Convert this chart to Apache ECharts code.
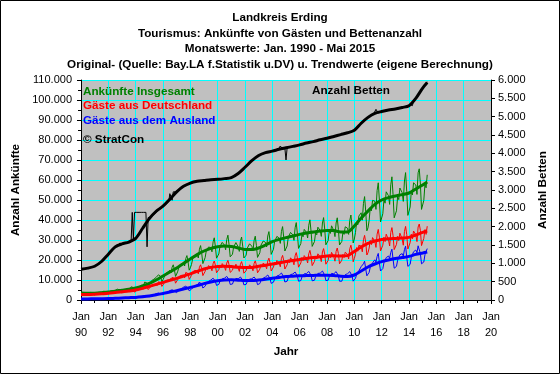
<!DOCTYPE html>
<html><head><meta charset="utf-8">
<script src="https://cdn.jsdelivr.net/npm/echarts@6/dist/echarts.min.js"></script>
<style>html,body{margin:0;padding:0;background:#fff}#c{width:560px;height:374px}</style>
</head><body><div id="c"></div>
<script>
// ---- DATA (arrivals in thousands, beds in thousands) ----
// Monthly originals, Jan 1990 .. May 2015
const inlandMonthly = [
2.3,2.5,2.9,2.7,3.0,2.9,2.8,2.5,3.1,3.4,3.0,2.3,
2.5,2.7,3.1,2.9,3.2,3.2,3.2,2.9,3.6,3.8,3.4,2.7,
2.9,3.2,3.7,3.4,3.8,3.7,3.8,3.4,4.3,4.6,4.1,3.2,
3.5,3.9,4.4,4.1,4.6,4.5,4.7,4.2,5.2,5.6,5.0,3.9,
4.4,4.9,5.6,5.2,5.8,5.7,6.2,5.5,6.9,7.4,6.6,5.2,
6.0,6.6,7.5,7.0,7.9,7.7,8.1,7.3,9.1,9.8,8.7,6.8,
7.6,8.4,9.6,8.9,10.0,9.8,10.1,9.1,11.3,12.2,10.8,8.4,
9.3,10.3,11.7,10.9,12.3,12.0,12.3,11.0,13.8,14.8,13.2,10.3,
11.2,12.3,14.1,13.2,14.8,14.4,14.6,13.1,16.4,17.6,15.6,12.2,
13.0,14.3,16.4,15.3,17.2,16.7,16.2,14.6,18.2,19.5,17.4,13.6,
13.8,15.2,17.4,16.2,18.2,17.7,16.5,14.8,18.5,19.8,17.6,13.8,
13.6,14.9,17.0,15.9,17.9,17.4,16.0,14.3,17.9,19.2,17.1,13.4,
13.3,14.6,16.7,15.6,17.6,17.1,16.3,14.6,18.3,19.6,17.4,13.6,
14.1,15.4,17.7,16.5,18.5,18.0,17.3,15.6,19.5,20.9,18.6,14.5,
15.0,16.5,18.8,17.6,19.8,19.2,18.5,16.6,20.8,22.3,19.8,15.5,
16.0,17.6,20.1,18.7,21.1,20.5,19.6,17.6,22.1,23.7,21.1,16.4,
16.9,18.5,21.2,19.7,22.2,21.6,20.6,18.5,23.1,24.8,22.1,17.2,
17.5,19.3,22.0,20.5,23.1,22.5,21.4,19.2,24.0,25.7,22.9,17.9,
18.1,19.8,22.7,21.2,23.8,23.2,21.6,19.4,24.3,26.0,23.2,18.1,
18.1,19.9,22.8,21.2,23.9,23.2,22.8,20.5,25.6,27.4,24.4,19.1,
20.8,22.9,26.2,24.4,27.4,26.7,26.9,24.1,30.1,32.3,28.8,22.5,
23.7,26.0,29.8,27.7,31.2,30.3,29.3,26.3,32.9,35.3,31.4,24.5,
25.0,27.4,31.4,29.2,32.9,32.0,30.1,27.0,33.8,36.2,32.2,25.2,
25.3,27.8,31.8,29.7,33.4,32.4,30.5,27.4,34.3,36.8,32.7,25.5,
26.2,28.7,32.9,30.6,34.5,33.5,32.5,29.2,36.5,38.0,34.8,27.2,
28.0,30.8,35.2,32.8,36.9
];
const foreignMonthly = [
0.4,0.4,0.5,0.5,0.6,0.6,0.6,0.6,0.7,0.7,0.6,0.4,
0.4,0.5,0.6,0.6,0.7,0.7,0.7,0.7,0.8,0.8,0.7,0.5,
0.6,0.6,0.7,0.8,0.8,0.8,1.0,0.9,1.1,1.2,0.9,0.7,
0.8,0.9,1.0,1.0,1.2,1.2,1.3,1.2,1.4,1.5,1.2,1.0,
1.0,1.2,1.4,1.4,1.6,1.6,1.9,1.8,2.1,2.3,1.8,1.4,
1.7,1.8,2.2,2.3,2.5,2.5,3.2,3.0,3.5,3.7,3.0,2.3,
2.6,2.9,3.5,3.6,3.9,3.9,4.7,4.4,5.1,5.4,4.4,3.4,
3.7,4.1,4.8,5.0,5.5,5.5,6.4,6.0,6.9,7.4,5.9,4.6,
4.9,5.4,6.4,6.6,7.3,7.3,8.3,7.9,9.0,9.6,7.7,6.0,
6.2,6.9,8.2,8.4,9.3,9.3,10.0,9.5,10.9,11.6,9.3,7.3,
7.1,7.8,9.3,9.6,10.6,10.6,10.9,10.3,11.8,12.6,10.1,7.8,
7.2,8.0,9.5,9.8,10.8,10.8,10.6,10.0,11.5,12.3,9.8,7.6,
7.0,7.8,9.2,9.5,10.5,10.5,10.6,10.0,11.5,12.3,9.9,7.7,
7.3,8.2,9.7,10.0,11.0,11.0,11.5,10.9,12.5,13.3,10.7,8.3,
8.0,8.9,10.5,10.9,12.0,12.0,12.4,11.7,13.5,14.4,11.5,9.0,
8.5,9.4,11.2,11.6,12.7,12.7,13.0,12.2,14.0,15.0,12.0,9.4,
8.7,9.7,11.5,11.9,13.1,13.1,13.2,12.5,14.3,15.3,12.3,9.6,
8.9,9.9,11.7,12.1,13.3,13.3,13.4,12.6,14.5,15.5,12.4,9.7,
8.9,9.9,11.7,12.1,13.3,13.3,13.1,12.3,14.2,15.1,12.1,9.4,
8.5,9.4,11.2,11.6,12.7,12.7,13.1,12.3,14.2,15.1,12.1,9.4,
9.7,10.8,12.8,13.2,14.6,14.6,16.7,15.8,18.1,19.4,15.5,12.1,
12.4,13.8,16.4,16.9,18.6,18.6,20.1,19.0,21.8,23.3,18.6,14.5,
14.1,15.7,18.6,19.2,21.2,21.2,22.0,20.8,23.8,25.4,20.4,15.9,
15.1,16.8,19.9,20.5,22.6,22.6,23.2,21.9,25.2,26.9,21.5,16.8,
16.1,17.8,21.2,21.9,24.1,24.1,25.0,23.6,27.1,27.6,23.2,18.1,
17.1,19.0,22.6,23.3,25.7
];
const totalMonthly = [
2.7,2.9,3.4,3.2,3.6,3.5,3.4,3.1,3.8,4.1,3.6,2.7,
2.9,3.2,3.7,3.5,3.9,3.9,3.9,3.6,4.4,4.6,4.1,3.2,
3.5,3.8,4.4,4.2,4.6,4.5,4.8,4.3,5.4,5.8,5.0,3.9,
4.3,4.8,5.4,5.1,5.8,5.7,6.0,5.4,6.6,7.1,6.2,4.9,
5.4,6.1,7.0,6.6,7.4,7.3,8.1,7.3,9.0,9.7,8.4,6.6,
7.7,8.4,9.7,9.3,10.4,10.2,11.3,10.3,12.6,13.5,11.7,9.1,
10.2,11.3,13.1,12.5,13.9,13.7,14.8,13.5,16.4,17.6,15.2,11.8,
13.0,14.4,16.5,15.9,17.8,17.5,18.7,17.0,20.7,22.2,19.1,14.9,
16.1,17.7,20.5,19.8,22.1,21.7,22.9,21.0,25.4,27.2,23.3,18.2,
19.2,21.2,24.6,23.7,26.5,26.0,26.2,24.1,29.1,31.1,26.7,20.9,
20.9,23.0,26.7,25.8,28.8,28.3,27.4,25.1,30.3,32.4,27.7,21.6,
20.8,22.9,26.5,25.7,28.7,28.2,26.6,24.3,29.4,31.5,26.9,21.0,
20.3,22.4,25.9,25.1,28.1,27.6,26.9,24.6,29.8,31.9,27.3,21.3,
21.4,23.6,27.4,26.5,29.5,29.0,28.8,26.5,32.0,34.2,29.3,22.8,
23.0,25.4,29.3,28.5,31.8,31.2,30.9,28.3,34.3,36.7,31.3,24.5,
24.5,27.0,31.3,30.3,33.8,33.2,32.6,29.8,36.1,38.7,33.1,25.8,
25.6,28.2,32.7,31.6,35.3,34.7,33.8,31.0,37.4,40.1,34.4,26.8,
26.4,29.2,33.7,32.6,36.4,35.8,34.8,31.8,38.5,41.2,35.3,27.6,
27.0,29.7,34.4,33.3,37.1,36.5,34.7,31.7,38.5,41.1,35.3,27.5,
26.6,29.3,34.0,32.8,36.6,35.9,35.9,32.8,39.8,42.5,36.5,28.5,
30.5,33.7,39.0,37.6,42.0,41.3,43.6,39.9,48.2,51.7,44.3,34.6,
36.1,39.8,46.2,44.6,49.8,48.9,49.4,45.3,54.7,58.6,50.0,39.0,
39.1,43.1,50.0,48.4,54.1,53.2,52.1,47.8,57.6,61.6,52.6,41.1,
40.4,44.6,51.7,50.2,56.0,55.0,53.7,49.3,59.5,63.7,54.2,42.3,
42.3,46.5,54.1,52.5,58.6,57.6,57.5,52.8,63.6,65.6,58.0,45.3,
45.1,49.8,57.8,56.1,62.6
];
const bedsMonthly = [
0.84,0.84,0.84,0.85,0.85,0.86,0.87,0.87,0.88,0.89,0.90,0.91,
0.92,0.92,0.95,0.97,1.00,1.03,1.05,1.08,1.11,1.15,1.19,1.22,
1.25,1.25,1.30,1.34,1.38,1.42,1.45,1.40,1.45,1.50,1.55,1.52,
1.53,1.53,1.54,1.55,1.55,1.56,1.57,1.58,1.60,2.39,1.65,2.39,
2.39,2.39,2.39,2.39,2.39,2.39,2.39,2.39,2.39,2.39,1.45,2.25,
2.25,2.26,2.28,2.30,2.33,2.36,2.40,2.42,2.44,2.47,2.50,2.52,
2.55,2.57,2.60,2.62,2.65,2.68,2.90,2.90,2.72,2.95,2.95,2.95,
2.97,2.99,3.02,3.04,3.06,3.08,3.10,3.12,3.14,3.16,3.17,3.18,
3.19,3.20,3.21,3.22,3.23,3.24,3.24,3.25,3.25,3.25,3.26,3.26,
3.26,3.26,3.27,3.27,3.27,3.28,3.28,3.28,3.28,3.29,3.29,3.29,
3.29,3.29,3.30,3.30,3.30,3.31,3.31,3.31,3.32,3.32,3.33,3.33,
3.34,3.35,3.37,3.39,3.41,3.43,3.45,3.48,3.51,3.54,3.57,3.60,
3.62,3.65,3.68,3.71,3.74,3.77,3.80,3.83,3.86,3.88,3.90,3.92,
3.94,3.95,3.96,3.98,3.99,4.00,4.02,4.03,4.03,4.04,4.05,4.05,
4.06,4.07,4.08,4.08,4.09,4.10,4.11,4.20,4.20,4.12,4.13,4.14,
3.82,4.15,4.16,4.17,4.17,4.18,4.19,4.20,4.20,4.21,4.22,4.22,
4.23,4.24,4.25,4.26,4.27,4.28,4.28,4.29,4.30,4.30,4.31,4.31,
4.32,4.33,4.34,4.35,4.36,4.37,4.37,4.38,4.39,4.39,4.40,4.40,
4.41,4.42,4.43,4.44,4.45,4.46,4.46,4.47,4.48,4.49,4.50,4.50,
4.51,4.52,4.53,4.54,4.55,4.56,4.56,4.57,4.58,4.59,4.60,4.61,
4.63,4.65,4.68,4.71,4.74,4.78,4.82,4.85,4.88,4.92,4.95,4.97,
4.98,5.00,5.02,5.04,5.06,5.08,5.09,5.20,5.20,5.10,5.11,5.12,
5.14,5.15,5.15,5.16,5.17,5.17,5.18,5.18,5.19,5.19,5.20,5.20,
5.21,5.21,5.22,5.22,5.23,5.24,5.25,5.25,5.26,5.27,5.28,5.29,
5.30,5.33,5.30,5.30,5.44,5.48,5.50,5.55,5.60,5.65,5.70,5.75,
5.78,5.82,5.86,5.90,5.95
];
// Trend values: every half year from Jan 1990 to Jan 2015, plus May 2015
const totalTrend = [3.5,3.4,3.4,3.6,4.0,4.4,4.9,5.4,6.0,7.0,8.3,10.0,12.0,14.0,16.0,18.3,20.5,22.7,24.5,25.8,
26.6,27.0,26.8,26.0,25.3,25.2,26.0,27.5,29.2,30.3,31.2,32.0,32.8,33.5,34.0,34.5,34.8,34.7,34.0,34.0,
37.0,41.0,44.5,47.8,50.0,51.2,52.0,52.7,53.5,55.5,57.5,59.0];
const inlandTrend = [2.8,2.8,2.9,3.1,3.4,3.7,4.1,4.5,5.0,5.8,6.8,7.8,8.8,9.8,10.8,12.0,13.1,14.3,15.5,16.3,
16.8,16.9,16.7,16.4,16.2,16.3,16.9,17.4,18.0,18.6,19.2,19.8,20.3,20.8,21.2,21.6,22.0,22.1,22.0,22.2,
24.3,26.5,28.3,29.5,30.3,30.6,30.8,31.0,31.3,32.5,33.8,34.5];
const foreignTrend = [0.5,0.55,0.6,0.65,0.7,0.85,1.0,1.15,1.3,1.6,2.0,2.6,3.3,4.0,4.7,5.5,6.3,7.2,8.2,9.0,
9.6,10.0,10.1,9.9,9.7,9.7,10.0,10.4,10.9,11.3,11.7,11.9,12.1,12.2,12.3,12.4,12.4,12.3,11.9,11.7,
12.5,14.5,16.5,18.0,19.2,20.0,20.7,21.2,21.8,22.8,23.5,24.0];
const bedsTrend = [0.84,0.87,0.92,1.05,1.25,1.45,1.53,1.58,1.68,1.95,2.22,2.42,2.56,2.75,2.95,3.10,3.19,3.24,3.26,3.28,
3.29,3.31,3.34,3.45,3.62,3.80,3.94,4.02,4.06,4.11,4.15,4.19,4.23,4.28,4.32,4.37,4.41,4.46,4.51,4.56,
4.63,4.82,4.98,5.09,5.14,5.18,5.21,5.25,5.30,5.50,5.78,5.93];
const leftTicks = {min: 0, max: 110, step: 10};
const rightTicks = {min: 0, max: 6, step: 0.5};
const titleLines = ['Landkreis Erding','Tourismus: Ankünfte von Gästen und Bettenanzahl','Monatswerte: Jan. 1990 - Mai 2015','Original- (Quelle: Bay.LA f.Statistik u.DV) u. Trendwerte (eigene Berechnung)'];

// ---- build ----
const FONT = '"Liberation Sans", Arial, sans-serif';
const BF = 'bold 11.7px ' + FONT;
const trendMonths = [];
for (let k = 0; k <= 50; k++) trendMonths.push(k * 6);
trendMonths.push(304);
const mon = a => a.map((v, i) => [i, v]);
const tr = a => a.map((v, i) => [trendMonths[i], v]);
const fmtThousand = v => {
  if (v === 0) return '0';
  if (v < 1) return String(Math.round(v * 1000));
  return v.toFixed(3);
};
const thin = (name, data, color, yi) => ({name, type:'line', data, yAxisIndex: yi, showSymbol:false, symbol:'none',
  lineStyle:{color, width:1}, itemStyle:{color}, silent:true, z:2});
const thick = (name, data, color, yi) => ({name, type:'line', data, yAxisIndex: yi, showSymbol:false, symbol:'none',
  smooth:0.3, lineStyle:{color, width:3}, itemStyle:{color}, silent:true, z:3});
const nameStyle = {fontFamily:FONT, fontSize:11.7, fontWeight:'bold', color:'#000'};

const chart = echarts.init(document.getElementById('c'), null, {renderer:'canvas'});
chart.setOption({
  animation:false,
  backgroundColor:'#ffffff',
  textStyle:{fontFamily:FONT},
  title:{text:titleLines.join('\n'), left:'center', top:5.5,
    textStyle:{fontFamily:FONT, fontSize:11.7, fontWeight:'bold', color:'#000', lineHeight:15.5}},
  grid:{left:81, right:69, top:80, bottom:74, show:true, backgroundColor:'#c0c0c0', borderWidth:0},
  xAxis:{type:'value', min:0, max:360, interval:24,
    axisLine:{show:true, lineStyle:{color:'#000', width:1}},
    axisTick:{show:true, length:4, lineStyle:{color:'#000'}},
    minorTick:{show:true, splitNumber:2, length:3, lineStyle:{color:'#000'}},
    splitLine:{show:true, lineStyle:{color:'#00ffff', width:1}},
    axisLabel:{color:'#000', fontSize:11, fontFamily:FONT, lineHeight:16, margin:9,
      formatter: v => 'Jan\n' + String((90 + v / 12) % 100).padStart(2, '0')},
    name:'Jahr', nameLocation:'middle', nameGap:46, nameTextStyle:nameStyle},
  yAxis:[
    {type:'value', min:leftTicks.min, max:leftTicks.max, interval:leftTicks.step, position:'left',
     axisLine:{show:true, lineStyle:{color:'#000'}},
     axisTick:{show:true, length:4, lineStyle:{color:'#000'}},
     minorTick:{show:true, splitNumber:2, length:3, lineStyle:{color:'#000'}},
     splitLine:{show:true, lineStyle:{color:'#00ffff', width:1}},
     axisLabel:{color:'#000', fontSize:11, fontFamily:FONT, margin:9, formatter: fmtThousand},
     name:'Anzahl Ankünfte', nameLocation:'middle', nameRotate:90, nameGap:48, nameTextStyle:nameStyle},
    {type:'value', min:rightTicks.min, max:rightTicks.max, interval:rightTicks.step, position:'right',
     axisLine:{show:true, lineStyle:{color:'#000'}},
     axisTick:{show:true, length:4, lineStyle:{color:'#000'}},
     splitLine:{show:false},
     axisLabel:{color:'#000', fontSize:11, fontFamily:FONT, margin:7, formatter: fmtThousand},
     name:'Anzahl Betten', nameLocation:'middle', nameRotate:90, nameGap:41, nameTextStyle:nameStyle}
  ],
  graphic:[
    {type:'text', left:83, top:85.5, style:{text:'Ankünfte Insgesamt', fill:'#008000', font:BF}, z:10},
    {type:'text', left:83, top:99.5, style:{text:'Gäste aus Deutschland', fill:'#ff0000', font:BF}, z:10},
    {type:'text', left:83, top:115, style:{text:'Gäste aus dem Ausland', fill:'#0000ff', font:BF}, z:10},
    {type:'text', left:83, top:134, style:{text:'© StratCon', fill:'#000', font:BF}, z:10},
    {type:'text', left:312, top:85, style:{text:'Anzahl Betten', fill:'#000', font:BF}, z:10},
    {type:'rect', shape:{x:0.5, y:0.5, width:559, height:373}, style:{fill:'none', stroke:'#000', lineWidth:1}, z:20}
  ],
  series:[
    thin('Betten', mon(bedsMonthly), '#000', 1),
    thick('Betten Trend', tr(bedsTrend), '#000', 1),
    thin('Ankünfte Insgesamt', mon(totalMonthly), '#008000', 0),
    thin('Gäste aus Deutschland', mon(inlandMonthly), '#ff0000', 0),
    thin('Gäste aus dem Ausland', mon(foreignMonthly), '#0000ff', 0),
    thick('Insgesamt Trend', tr(totalTrend), '#008000', 0),
    thick('Deutschland Trend', tr(inlandTrend), '#ff0000', 0),
    thick('Ausland Trend', tr(foreignTrend), '#0000ff', 0)
  ]
});
</script></body></html>
